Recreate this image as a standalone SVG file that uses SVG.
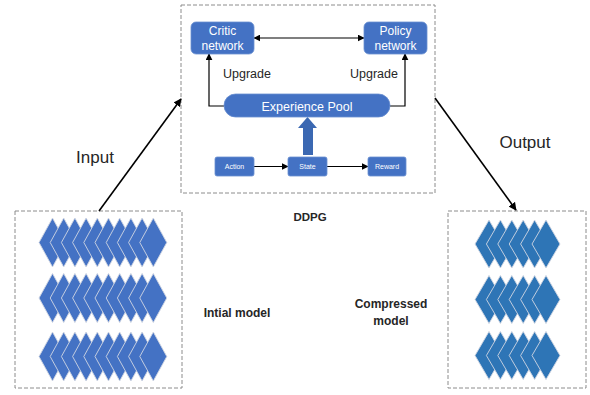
<svg xmlns="http://www.w3.org/2000/svg" width="590" height="395" viewBox="0 0 590 395">
<defs>
<style>
.frame{fill:#fff;stroke:#8c8c8c;stroke-width:1;stroke-dasharray:4 2}
.node{fill:#4472c4;stroke:#6a8fd0;stroke-width:0.8}
.wt{fill:#fff;font-family:"Liberation Sans",Arial,sans-serif;text-anchor:middle}
.lbl{fill:#262626;font-family:"Liberation Sans",Arial,sans-serif;text-anchor:middle}
.bold{font-weight:bold}
.conn{fill:none;stroke:#000;stroke-width:1.2}
.thick{stroke-width:1.6}
.d1{fill:#4472c4;stroke:#d0d6e2;stroke-width:0.9}
.d2{fill:#2e75b6;stroke:#d0d6e2;stroke-width:0.9}
</style>
<marker id="ah" viewBox="0 0 10 10" refX="9" refY="5" markerWidth="7" markerHeight="7" markerUnits="userSpaceOnUse" orient="auto-start-reverse">
<path d="M0,0 L10,5 L0,10 z" fill="#000"/>
</marker>
<marker id="ah2" viewBox="0 0 10 10" refX="9" refY="5" markerWidth="8" markerHeight="8" markerUnits="userSpaceOnUse" orient="auto">
<path d="M0,0 L10,5 L0,10 z" fill="#000"/>
</marker>
<polygon id="dm1" points="0,-24.5 13.5,0 0,24.5 -13.5,0"/>
<polygon id="dm2" points="0,-24 14,0 0,24 -14,0"/>
</defs>

<g id="ddpg-frame">
<rect class="frame" x="181" y="5" width="254" height="188"/>
</g>
<g id="initial-frame">
<rect class="frame" x="15" y="211" width="167" height="177"/>
</g>
<g id="compressed-frame">
<rect class="frame" x="448" y="211" width="138" height="177"/>
</g>

<g id="connectors">
<line class="conn" x1="254" y1="38" x2="364" y2="38" marker-start="url(#ah)" marker-end="url(#ah)"/>
<polyline class="conn" points="224,106 209,106 209,54" marker-end="url(#ah)"/>
<polyline class="conn" points="390,106 405,106 405,54" marker-end="url(#ah)"/>
<line class="conn" x1="254" y1="166.5" x2="288" y2="166.5" marker-end="url(#ah)"/>
<line class="conn" x1="327" y1="166.5" x2="368" y2="166.5" marker-end="url(#ah)"/>
<line class="conn thick" x1="99" y1="211" x2="181" y2="99" marker-end="url(#ah2)"/>
<line class="conn thick" x1="435" y1="98" x2="516" y2="210" marker-end="url(#ah2)"/>
<polygon points="303,155 313,155 313,128 317,128 307.5,117 298,128 303,128" fill="#3b68b2"/>
</g>

<g id="critic">
<rect class="node" x="191" y="22" width="63" height="32" rx="5"/>
<text class="wt" x="222.5" y="35" font-size="12">Critic</text>
<text class="wt" x="222.5" y="49.5" font-size="12">network</text>
</g>
<g id="policy">
<rect class="node" x="364" y="22" width="63" height="32" rx="5"/>
<text class="wt" x="395.5" y="35" font-size="12">Policy</text>
<text class="wt" x="395.5" y="49.5" font-size="12">network</text>
</g>
<g id="upgrade-labels">
<text class="lbl" x="247" y="78" font-size="12.5">Upgrade</text>
<text class="lbl" x="374" y="78" font-size="12.5">Upgrade</text>
</g>
<g id="experience-pool">
<rect class="node" x="224" y="94" width="166" height="23" rx="11.5"/>
<text class="wt" x="307" y="110.5" font-size="12.5">Experience Pool</text>
</g>
<g id="action">
<rect class="node" x="215" y="157" width="39" height="19" rx="2"/>
<text class="wt" x="234.5" y="169" font-size="7">Action</text>
</g>
<g id="state">
<rect class="node" x="288" y="157" width="39" height="19" rx="2"/>
<text class="wt" x="307.5" y="169" font-size="7">State</text>
</g>
<g id="reward">
<rect class="node" x="368" y="157" width="38" height="19" rx="2"/>
<text class="wt" x="387" y="169" font-size="7">Reward</text>
</g>

<g id="labels">
<text class="lbl" x="95" y="163" font-size="17">Input</text>
<text class="lbl" x="525" y="148" font-size="17">Output</text>
<text class="lbl bold" x="310" y="221" font-size="11.5">DDPG</text>
<text class="lbl bold" x="237" y="317" font-size="12">Intial model</text>
<text class="lbl bold" x="391" y="308" font-size="12">Compressed</text>
<text class="lbl bold" x="391" y="325" font-size="12">model</text>
</g>

<g id="initial-model">
<g transform="translate(0,242.5)">
<use href="#dm1" class="d1" x="52.5"/><use href="#dm1" class="d1" x="63.7"/><use href="#dm1" class="d1" x="74.9"/><use href="#dm1" class="d1" x="86.1"/><use href="#dm1" class="d1" x="97.3"/><use href="#dm1" class="d1" x="108.5"/><use href="#dm1" class="d1" x="119.7"/><use href="#dm1" class="d1" x="130.9"/><use href="#dm1" class="d1" x="142.1"/><use href="#dm1" class="d1" x="153.3"/>
</g>
<g transform="translate(0,298)">
<use href="#dm1" class="d1" x="52.5"/><use href="#dm1" class="d1" x="63.7"/><use href="#dm1" class="d1" x="74.9"/><use href="#dm1" class="d1" x="86.1"/><use href="#dm1" class="d1" x="97.3"/><use href="#dm1" class="d1" x="108.5"/><use href="#dm1" class="d1" x="119.7"/><use href="#dm1" class="d1" x="130.9"/><use href="#dm1" class="d1" x="142.1"/><use href="#dm1" class="d1" x="153.3"/>
</g>
<g transform="translate(0,356.5)">
<use href="#dm1" class="d1" x="52.5"/><use href="#dm1" class="d1" x="63.7"/><use href="#dm1" class="d1" x="74.9"/><use href="#dm1" class="d1" x="86.1"/><use href="#dm1" class="d1" x="97.3"/><use href="#dm1" class="d1" x="108.5"/><use href="#dm1" class="d1" x="119.7"/><use href="#dm1" class="d1" x="130.9"/><use href="#dm1" class="d1" x="142.1"/><use href="#dm1" class="d1" x="153.3"/>
</g>
</g>

<g id="compressed-model">
<g transform="translate(0,244)">
<use href="#dm2" class="d2" x="489"/><use href="#dm2" class="d2" x="500.4"/><use href="#dm2" class="d2" x="511.8"/><use href="#dm2" class="d2" x="523.2"/><use href="#dm2" class="d2" x="534.6"/><use href="#dm2" class="d2" x="546"/>
</g>
<g transform="translate(0,299.5)">
<use href="#dm2" class="d2" x="489"/><use href="#dm2" class="d2" x="500.4"/><use href="#dm2" class="d2" x="511.8"/><use href="#dm2" class="d2" x="523.2"/><use href="#dm2" class="d2" x="534.6"/><use href="#dm2" class="d2" x="546"/>
</g>
<g transform="translate(0,355.5)">
<use href="#dm2" class="d2" x="489"/><use href="#dm2" class="d2" x="500.4"/><use href="#dm2" class="d2" x="511.8"/><use href="#dm2" class="d2" x="523.2"/><use href="#dm2" class="d2" x="534.6"/><use href="#dm2" class="d2" x="546"/>
</g>
</g>
</svg>
